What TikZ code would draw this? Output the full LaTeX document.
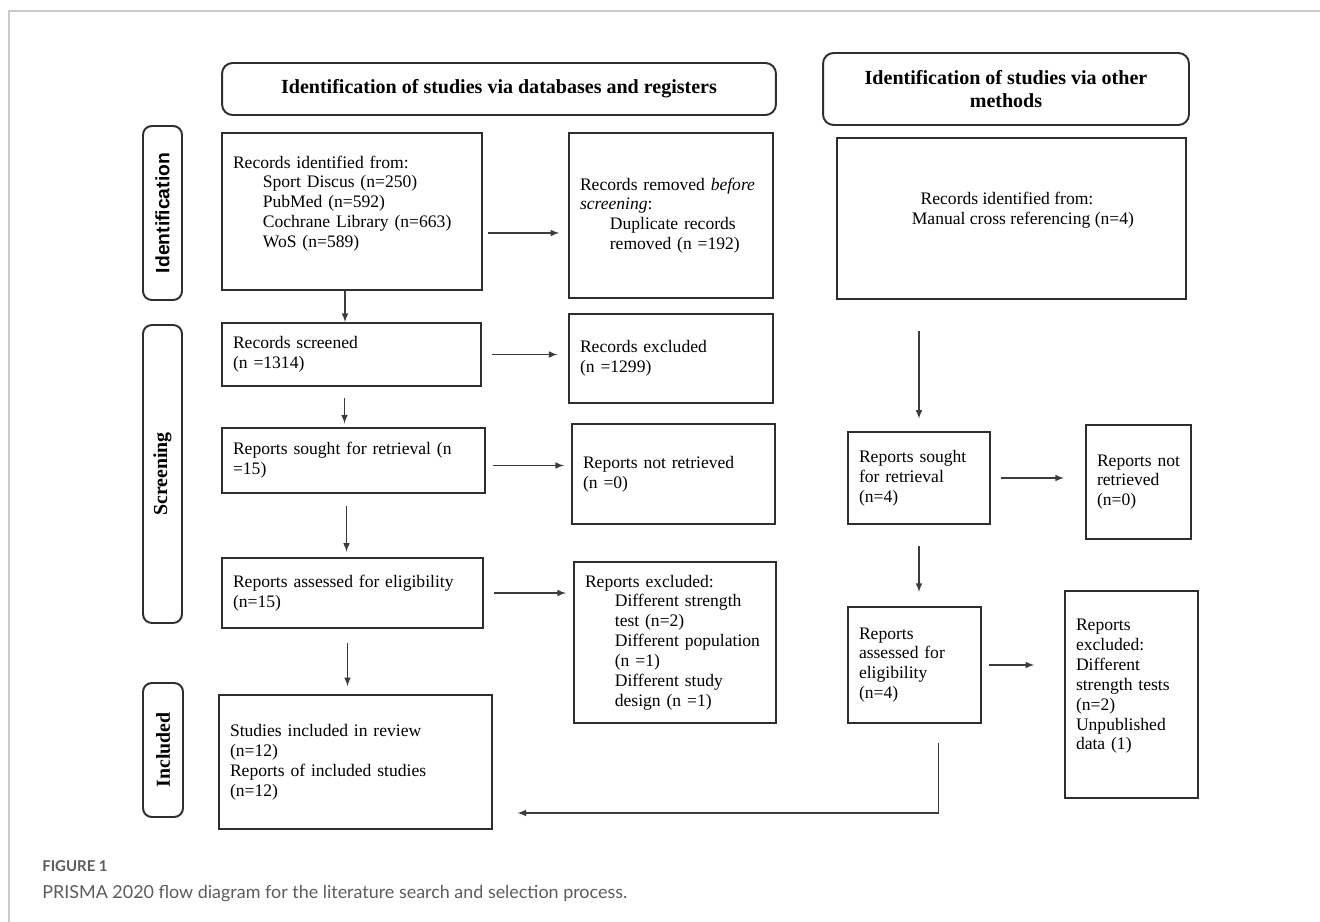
\documentclass[tikz,border=0pt]{standalone}
\usepackage{fontspec}
\setmainfont{Liberation Serif}
\newfontfamily\labelsans{Liberation Sans}
\newfontfamily\capsans{Lato}
\definecolor{boxline}{HTML}{2E2E2E}
\definecolor{arrowgray}{HTML}{3C3C3C}
\definecolor{framegray}{HTML}{CACACA}
\definecolor{captiongray}{HTML}{5C5C5C}
\newcommand{\ind}{\hspace*{17pt}}

\begin{document}
\begin{tikzpicture}[
            x=0.02cm, y=-0.02cm,
            box/.style = {draw=boxline, line width=1.1pt, inner sep=0pt, align=left, font=\fontsize{10}{11.3}\selectfont},
            head/.style = {box, rounded corners=6pt, align=center, font=\fontsize{11.4}{13.5}\selectfont\bfseries},
            side/.style = {draw=boxline, line width=1.1pt, inner sep=0pt, rounded corners=5pt, minimum width=0.78cm},
            sidetext/.style = {rotate=90, inner sep=0pt, font=\fontsize{11.3}{13}\selectfont\bfseries},
            arr/.style = {arrowgray, line width=0.7pt, -latex},
            ]
            \useasboundingbox (0,0) rectangle (1320,922);
            % frame round the figure
            \draw[framegray, line width=1.2pt] (1320,11) -- (9,11) -- (9,922);

            % column headers
            \node[head, minimum width=11.08cm, minimum height=1.04cm] (head1) at (499,89) {Identification of studies via databases and registers};
            \node[head, minimum width=7.32cm, minimum height=1.44cm] (head2) at (1006,89) {Identification of studies via other\\methods};

            % phases
            \node[side, minimum height=3.48cm] (idbox) at (162.5,213) {};
            \node[side, minimum height=5.96cm] (scrbox) at (162.5,474) {};
            \node[side, minimum height=2.68cm, minimum width=0.8cm] (incbox) at (163,750) {};
            \node[sidetext, font=\labelsans\fontsize{11}{13}\selectfont\bfseries] (idtext) at (idbox) {Identification};
            \node[sidetext] (scrtext) at (scrbox) {Screening};
            \node[sidetext] (inctext) at (incbox) {Included};

            % databases and registers
            \node[box, minimum width=5.2cm, minimum height=3.14cm, text width=4.76cm] (recA) at (352,211.5) {Records identified from:\\ \ind Sport Discus (n=250)\\ \ind PubMed (n=592)\\ \ind Cochrane Library (n=663)\\ \ind WoS (n=589)\\ \mbox{}};
            \node[box, minimum width=4.08cm, minimum height=3.3cm, text width=3.64cm] (removed) at (671,215.5) {Records removed \textit{before}\\ \textit{screening}:\\ \ind Duplicate records\\ \ind removed (n =192)};
            \node[box, minimum width=5.18cm, minimum height=1.26cm, text width=4.74cm] (screened) at (351.5,354.5) {Records screened\\(n =1314)};
            \node[box, minimum width=4.08cm, minimum height=1.78cm, text width=3.64cm] (excluded) at (671,358.5) {Records excluded\\(n =1299)};
            \node[box, minimum width=5.26cm, minimum height=1.3cm, text width=4.82cm] (sought) at (353.5,460.5) {Reports sought for retrieval (n\\=15)};
            \node[box, minimum width=4.06cm, minimum height=2cm, text width=3.62cm] (notret) at (673.5,474) {Reports not retrieved\\(n =0)};
            \node[box, minimum width=5.22cm, minimum height=1.4cm, text width=4.78cm] (assessed) at (352.5,593) {Reports assessed for eligibility\\(n=15)};
            \node[box, minimum width=4.04cm, minimum height=3.22cm, text width=3.6cm] (repexcl) at (675,642.5) {Reports excluded:\\ \ind Different strength\\ \ind test (n=2)\\ \ind Different population\\ \ind (n =1)\\ \ind Different study\\ \ind design (n =1)};
            \node[box, minimum width=5.46cm, minimum height=2.68cm, text width=5.02cm] (included) at (355.5,762) {Studies included in review\\(n=12)\\Reports of included studies\\(n=12)};

            % other methods
            \node[box, minimum width=6.98cm, minimum height=3.22cm] (manual) at (1011.5,218.5) {\hspace*{18pt}Records identified from:\\\hspace*{13pt}Manual cross referencing (n=4)\\ \mbox{}};
            \node[box, minimum width=2.84cm, minimum height=1.84cm, text width=2.4cm] (sought2) at (919,478) {Reports sought\\for retrieval\\(n=4)};
            \node[box, minimum width=2.1cm, minimum height=2.28cm, text width=1.66cm] (notret2) at (1138.5,482) {Reports not\\retrieved\\(n=0)};
            \node[box, minimum width=2.66cm, minimum height=2.32cm, text width=2.22cm] (assessed2) at (914.5,665) {Reports\\assessed for\\eligibility\\(n=4)};
            \node[box, minimum width=2.66cm, minimum height=4.14cm, text width=2.22cm] (repexcl2) at (1131.5,694.5) {Reports\\excluded:\\Different\\strength tests\\(n=2)\\Unpublished\\data (1)\\ \mbox{}};

            % connectors
            \draw[arr, shorten <=3pt, shorten >=5pt] ([yshift=-0.43cm]recA.east) -- ([yshift=-0.43cm]recA.east -| removed.west);
            \draw[arr] ([xshift=-0.14cm]recA.south) -- ([xshift=-0.14cm]recA.south |- screened.north);
            \draw[arr, shorten <=6pt, shorten >=6pt] (screened.east) -- (screened.east -| excluded.west);
            \draw[arr, shorten <=6pt, shorten >=2pt] ([xshift=-0.14cm]screened.south) -- ([xshift=-0.14cm]screened.south |- sought.north);
            \draw[arr, shorten <=4pt, shorten >=4pt] ([yshift=-0.1cm]sought.east) -- ([yshift=-0.1cm]sought.east -| notret.west);
            \draw[arr, shorten <=7pt, shorten >=3pt] ([xshift=-0.14cm]sought.south) -- ([xshift=-0.14cm]sought.south |- assessed.north);
            \draw[arr, shorten <=6pt, shorten >=4pt] (assessed.east) -- (assessed.east -| repexcl.west);
            \draw[arr, shorten <=8pt, shorten >=4.5pt] ([xshift=-0.1cm]assessed.south) -- ([xshift=-0.1cm]assessed.south |- included.north);

            \draw[arr, shorten <=17.5pt, shorten >=7pt] (sought2.north |- manual.south) -- (sought2.north);
            \draw[arr, shorten <=5.5pt, shorten >=12pt] (sought2.east) -- (sought2.east -| notret2.west);
            \draw[arr, shorten <=12pt, shorten >=8pt] (sought2.south) -- (sought2.south |- assessed2.north);
            \draw[arr, shorten <=4pt, shorten >=17pt] (assessed2.east) -- (assessed2.east -| repexcl2.west);
            \draw[arr, shorten >=14pt] ([xshift=0.48cm, yshift=-0.38cm]assessed2.south) |- ([yshift=-1.02cm]included.east);

            % caption
            \node[anchor=base west, inner sep=0pt, text=captiongray, font=\capsans\fontsize{8.5}{10}\selectfont\bfseries] (figlabel) at (42,871) {FIGURE 1};
            \node[anchor=base west, inner sep=0pt, text=captiongray, font=\capsans\fontsize{10.2}{12}\selectfont] (caption) at (42,898) {PRISMA 2020 flow diagram for the literature search and selection process.};
        \end{tikzpicture}
\end{document}
